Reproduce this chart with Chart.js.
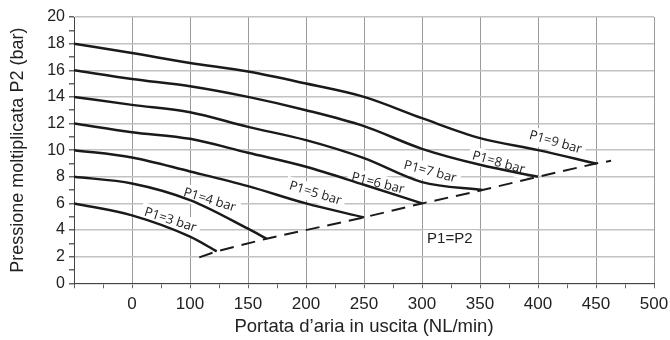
<!DOCTYPE html>
<html>
<head>
<meta charset="utf-8">
<script src="https://cdn.jsdelivr.net/npm/chart.js@4.4.1/dist/chart.umd.min.js"></script>
<style>
  html, body { margin: 0; padding: 0; background: #fff; }
  #wrap { width: 670px; height: 340px; }
</style>
</head>
<body>
<div id="wrap"><canvas id="myChart" width="670" height="340"></canvas></div>
<script>
// x axis in plot units: left edge = 0, the gridline labelled "0" sits at 50,
// from 100 on the labels match the values (that is how the original is drawn)
const flowP1_3 = [0, 50, 100, 123];
const p2P1_3 = [6.0, 5.1, 3.5, 2.4];
const flowP1_4 = [0, 50, 100, 150, 166];
const p2P1_4 = [8.0, 7.5, 6.25, 4.1, 3.35];
const flowP1_5 = [0, 50, 100, 150, 200, 250];
const p2P1_5 = [10.0, 9.45, 8.4, 7.3, 6.0, 4.95];
const flowP1_6 = [0, 50, 100, 150, 200, 250, 300];
const p2P1_6 = [12.0, 11.35, 10.85, 9.8, 8.75, 7.4, 6.0];
const flowP1_7 = [0, 50, 100, 150, 200, 250, 300, 352];
const p2P1_7 = [14.0, 13.4, 12.85, 11.75, 10.75, 9.4, 7.6, 7.0];
const flowP1_8 = [0, 50, 100, 150, 200, 250, 300, 350, 400];
const p2P1_8 = [16.0, 15.35, 14.8, 14.0, 13.0, 11.8, 10.1, 8.9, 8.0];
const flowP1_9 = [0, 50, 100, 150, 200, 250, 300, 350, 400, 450];
const p2P1_9 = [18.0, 17.3, 16.55, 15.9, 15.0, 14.0, 12.4, 10.9, 10.0, 9.0];

// P1 = P2 limit line
const flowLimit = [108, 123, 166, 250, 300, 352, 400, 450, 463];
const p2Limit = [1.95, 2.4, 3.35, 4.95, 6.0, 7.0, 8.0, 9.0, 9.2];

const curveNames = ["P1=3 bar", "P1=4 bar", "P1=5 bar", "P1=6 bar", "P1=7 bar", "P1=8 bar", "P1=9 bar"];
const curveFlows = [flowP1_3, flowP1_4, flowP1_5, flowP1_6, flowP1_7, flowP1_8, flowP1_9];
const curveP2 = [p2P1_3, p2P1_4, p2P1_5, p2P1_6, p2P1_7, p2P1_8, p2P1_9];

// text labels placed on the chart (data units)
const noteText = ["P1=3 bar", "P1=4 bar", "P1=5 bar", "P1=6 bar", "P1=7 bar", "P1=8 bar", "P1=9 bar", "P1=P2"];
const noteFlow = [83, 117, 208, 262, 307, 366, 415, 324];
const noteP2 = [4.75, 6.25, 6.75, 7.5, 8.37, 9.05, 10.58, 3.32];
const noteAngle = [18, 17, 17, 14, 15, 16, 16, 0];

const toPoints = (xs, ys) => xs.map((v, i) => ({ x: v, y: ys[i] }));

const datasets = curveNames.map((name, i) => ({
  label: name,
  data: toPoints(curveFlows[i], curveP2[i]),
  borderColor: "#1a1a1a",
  borderWidth: 2.5,
  pointRadius: 0,
  cubicInterpolationMode: "monotone",
  fill: false,
}));
datasets.push({
  label: "P1=P2",
  data: toPoints(flowLimit, p2Limit),
  borderColor: "#1a1a1a",
  borderWidth: 2,
  borderDash: [14, 8],
  pointRadius: 0,
  tension: 0,
  fill: false,
});

const notesPlugin = {
  id: "notes",
  beforeDatasetsDraw(chart) {
    const { ctx, scales: { x, y } } = chart;
    noteText.forEach((t, i) => {
      ctx.save();
      ctx.translate(x.getPixelForValue(noteFlow[i]), y.getPixelForValue(noteP2[i]));
      ctx.rotate((noteAngle[i] * Math.PI) / 180);
      const plain = noteAngle[i] === 0;
      ctx.font = plain ? '15px "Liberation Sans", Arial, sans-serif' : '13px "Open Sans", sans-serif';
      const w = ctx.measureText(t).width;
      ctx.fillStyle = "#fff";
      ctx.fillRect(-w / 2 - 4, -9, w + 8, 18);
      ctx.fillStyle = "#222";
      ctx.textAlign = "center";
      ctx.textBaseline = "middle";
      ctx.fillText(t, 0, 0);
      ctx.restore();
    });
  },
};

const ctx = document.getElementById("myChart").getContext("2d");
new Chart(ctx, {
  type: "line",
  data: { datasets: datasets },
  options: {
    responsive: false,
    animation: false,
    layout: { padding: { left: 3, right: 16, top: 17, bottom: 0 } },
    scales: {
      x: {
        type: "linear",
        min: 0,
        max: 500,
        afterFit: (s) => {
          s.height = 56.7;
          s.paddingLeft = 0;
          s.paddingRight = 0;
        },
        ticks: {
          stepSize: 25,
          autoSkip: false,
          maxRotation: 0,
          padding: 6,
          color: "#222",
          font: { family: '"Liberation Sans", Arial, sans-serif', size: 17 },
          callback: (v) => (v === 0 || v % 50 !== 0 ? "" : v === 50 ? "0" : String(v)),
        },
        grid: {
          color: (c) => (c.tick && c.tick.value % 50 === 0 ? "#9a9a9a" : "rgba(0,0,0,0)"),
          tickColor: "#666",
          tickLength: 5,
          lineWidth: 1,
        },
        border: { color: "#444", width: 1 },
        title: {
          display: true,
          text: "Portata d\u2019aria in uscita (NL/min)",
          color: "#222",
          font: { family: '"Liberation Sans", Arial, sans-serif', size: 18.5 },
          padding: { top: 2, bottom: 2 },
        },
      },
      y: {
        min: 0,
        max: 20,
        afterFit: (s) => { s.width = 71; },
        ticks: {
          stepSize: 1,
          autoSkip: false,
          padding: 4,
          color: "#222",
          font: { family: '"Liberation Sans", Arial, sans-serif', size: 16 },
          callback: (v) => (v % 2 === 0 ? String(v) : ""),
        },
        grid: {
          color: (c) => (c.tick && c.tick.value % 2 === 0 ? "#c2c2c2" : "rgba(0,0,0,0)"),
          tickColor: "#666",
          tickLength: 5,
          lineWidth: 1.5,
        },
        border: { color: "#444", width: 1 },
        title: {
          display: true,
          text: "Pressione moltiplicata P2 (bar)",
          color: "#222",
          font: { family: '"Liberation Sans", Arial, sans-serif', size: 18 },
          padding: { top: 4, bottom: 4 },
        },
      },
    },
    plugins: {
      legend: { display: false },
      tooltip: { enabled: false },
    },
  },
  plugins: [notesPlugin],
});
</script>
</body>
</html>
